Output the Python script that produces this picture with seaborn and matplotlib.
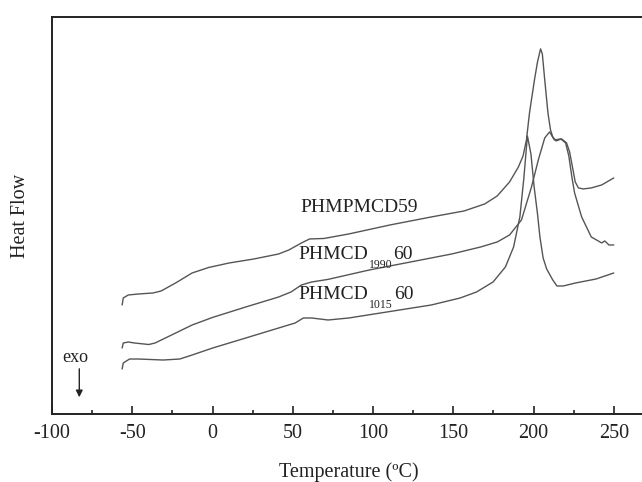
import matplotlib
matplotlib.use("Agg")
import matplotlib.pyplot as plt
import seaborn as sns
import pandas as pd
from matplotlib.ticker import MultipleLocator

# ---- data ----
t_top = [-56.3, -55.6, -52.5, -46.1, -37.1, -32, -23, -12.7, -2.4, 10.4, 25.8, 41.2, 47.6, 55.4, 60.5,
         69.5, 84.9, 110.6, 136.3, 156.8, 169.6, 177.4, 185.1, 190.6, 193.5, 195.6, 197.5, 200.6, 202.5,
         204.4, 205.5, 207, 209, 210.6, 212, 214, 217.5, 220.6, 222.5, 224.5, 226, 228, 231, 236, 242.5, 250]
hf_top = [109, 116, 119, 120, 121, 123, 131, 141, 146.5, 151, 155, 160, 164, 171, 175,
          175.5, 180, 189, 197, 203, 210, 218, 232, 247, 258, 274, 301, 334, 352,
          365, 360, 334, 301, 284, 277, 273, 275, 271, 262, 245, 232, 226, 225, 226, 229, 236]

t_mid = [-56.3, -55.6, -52.5, -48.6, -39.7, -35.8, -25.5, -12.7, 0.1, 20.7, 41.2, 48.9, 55.4, 61.8, 72,
         97.7, 123.4, 149.1, 167.1, 177.4, 185.1, 192.5, 198.75, 203, 207, 210, 213, 217, 220, 222, 224,
         225.6, 230, 236, 242.5, 244.4, 247, 250]
hf_mid = [66, 71, 72, 71, 69.5, 71, 79, 89, 96.6, 107, 117, 122, 129, 132, 134.6,
          144, 152, 160, 167, 172, 179, 194, 227, 254, 276, 282, 274, 275, 271, 258, 236,
          221, 197, 177, 171, 173, 169, 169]

t_bot = [-56.3, -55.6, -51.7, -46.1, -30.7, -20.4, -12.7, 0.1, 20.7, 41.2, 51.5, 56.6, 61.8, 72, 84.9,
         110.6, 136.3, 154.3, 164.5, 174.8, 182.5, 187.6, 191.5, 194, 196.2, 198.4, 200.4, 202.5, 204,
         206, 208.2, 212, 214.6, 218.5, 226.2, 239, 250]
hf_bot = [45, 51, 55, 55, 54, 55, 59, 66, 76, 86, 91, 96, 96, 94, 96,
          102.5, 109, 116, 122, 132, 147, 167, 197, 236, 278, 260, 227, 200, 177,
          156, 145, 134, 128, 128, 131, 135, 141]

names = ["PHMPMCD59", "PHMCD1990 60", "PHMCD1015 60"]
# (main text, subscript, trailing text)
label_parts = [("PHMPMCD59", "", ""), ("PHMCD", "1990", "60"), ("PHMCD", "1015", "60")]
label_pos = [(54.5, 206), (53.8, 159), (53.8, 119)]
x_ticks = [-100, -50, 0, 50, 100, 150, 200, 250]

frames = []
for n, t, h in zip(names, [t_top, t_mid, t_bot], [hf_top, hf_mid, hf_bot]):
    frames.append(pd.DataFrame({"T": t, "HF": h, "sample": n}))
df = pd.concat(frames, ignore_index=True)

sns.set_style("ticks")
plt.rcParams["font.family"] = ["Liberation Serif", "DejaVu Serif"]

fig = plt.figure(figsize=(6.42, 4.82), dpi=100)
ax = fig.add_axes([0.081, 0.141, 0.925, 0.824])

sns.lineplot(data=df, x="T", y="HF", units="sample", estimator=None, sort=False,
             color="#555555", linewidth=1.0, ax=ax, legend=False)

txt_color = "#222222"
for (main, sub, tail), (x, y) in zip(label_parts, label_pos):
    t1 = ax.text(x, y, main, fontsize=14, color=txt_color, va="center", ha="left")
    if sub:
        t2 = ax.annotate(sub, xy=(1, 0), xycoords=t1, xytext=(0.5, 3.5), textcoords="offset points",
                         fontsize=8.5, color=txt_color, va="top", ha="left")
        ax.annotate(tail, xy=(1, 0), xycoords=(t2, t1), xytext=(0.5, 0), textcoords="offset points",
                    fontsize=14, color=txt_color, va="bottom", ha="left")

ax.text(-93.5, 57, "exo", fontsize=13, color=txt_color, va="center", ha="left")
ax.annotate("", xy=(-83, 14), xytext=(-83, 48),
            arrowprops=dict(arrowstyle="-|>", color=txt_color, lw=1.0, mutation_scale=10))

ax.set_xlim(-100, 270)
ax.set_ylim(0, 397)
ax.set_xticks(x_ticks)
ax.set_xticklabels([str(v) for v in x_ticks])
ax.xaxis.set_minor_locator(MultipleLocator(25))
ax.set_yticks([])
ax.tick_params(axis="x", which="major", direction="in", length=6, width=1.2, labelsize=14.5, pad=7, colors=txt_color)
ax.tick_params(axis="x", which="minor", direction="in", length=3, width=1.2)
ax.spines["right"].set_visible(False)
for s in ["left", "bottom", "top"]:
    ax.spines[s].set_linewidth(1.4)
    ax.spines[s].set_color(txt_color)

ax.set_xlabel("Temperature (ºC)", fontsize=14.5, labelpad=14, color=txt_color)
ax.set_ylabel("Heat Flow", fontsize=14.5, labelpad=16, color=txt_color)

fig.savefig("out.png", dpi=100)
